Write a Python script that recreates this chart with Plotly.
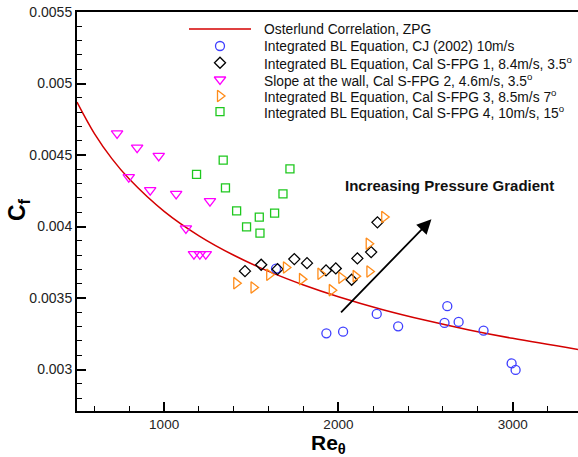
import plotly.graph_objects as go

# ---- data ----
curve_re = [500, 600, 700, 800, 1000, 1200, 1400, 1600, 1800, 2000, 2250, 2500, 2750, 3000, 3375]
curve_cf = [0.00487, 0.004650, 0.004475, 0.004332, 0.004106, 0.003935, 0.003799, 0.003686,
            0.003591, 0.003509, 0.003420, 0.003344, 0.003277, 0.003218, 0.003140]

cj_re = [1931, 2027, 2220, 2343, 2625, 2609, 2690, 2833, 2994, 3017, 1642]
cj_cf = [0.003253, 0.003265, 0.003389, 0.003302, 0.003443, 0.003326, 0.003333, 0.003272,
         0.003043, 0.002997, 0.003705]

fpg1_re = [1464, 1557, 1651, 1747, 1820, 1929, 1985, 2076, 2109, 2188, 2224]
fpg1_cf = [0.003688, 0.003733, 0.003702, 0.003772, 0.003744, 0.003693, 0.003707, 0.003628,
           0.003777, 0.003821, 0.004029]

fpg2_re = [730, 845, 969, 797, 920, 1069, 1263, 1125, 1171, 1205, 1239]
fpg2_cf = [0.004651, 0.004551, 0.004494, 0.004345, 0.004254, 0.004228, 0.004177, 0.003987,
           0.003807, 0.003807, 0.003807]

fpg3_re = [1414, 1513, 1603, 1699, 1791, 1897, 1962, 2017, 2099, 2178, 2174, 2263]
fpg3_cf = [0.003604, 0.003574, 0.003663, 0.003714, 0.003632, 0.003670, 0.003555, 0.003642,
           0.003653, 0.003686, 0.003880, 0.004067]

fpg4_re = [1339, 1186, 1722, 1352, 1682, 1416, 1634, 1546, 1473, 1550]
fpg4_cf = [0.004464, 0.004364, 0.004403, 0.004270, 0.004228, 0.004109, 0.004093, 0.004065,
           0.003997, 0.003954]

legend_labels = [
    "Osterlund Correlation, ZPG",
    "Integrated BL Equation, CJ (2002) 10m/s",
    "Integrated BL Equation, Cal S-FPG 1, 8.4m/s, 3.5<sup>o</sup>",
    "Slope at the wall, Cal S-FPG 2, 4.6m/s, 3.5<sup>o</sup>",
    "Integrated BL Equation, Cal S-FPG 3, 8.5m/s 7<sup>o</sup>",
    "Integrated BL Equation, Cal S-FPG 4, 10m/s, 15<sup>o</sup>",
]

x_ticks = [1000, 2000, 3000]
y_ticks = [0.003, 0.0035, 0.004, 0.0045, 0.005, 0.0055]

RED = "#d40000"
BLUE = "#3f3fff"
BLACK = "#000000"
MAGENTA = "#ff00ff"
ORANGE = "#ff8c1a"
GREEN = "#1ec81e"
FONT = "Liberation Sans, Arial"

series = [
    (cj_re, cj_cf, "circle-open", BLUE, 9),
    (fpg1_re, fpg1_cf, "diamond-open", BLACK, 8.5),
    (fpg2_re, fpg2_cf, "triangle-down-open", MAGENTA, 10),
    (fpg3_re, fpg3_cf, "triangle-right-open", ORANGE, 10),
    (fpg4_re, fpg4_cf, "square-open", GREEN, 8),
]

fig = go.Figure()
fig.add_trace(go.Scatter(x=curve_re, y=curve_cf, mode="lines", line=dict(color=RED, width=1.5, shape="spline"),
                         showlegend=False, hoverinfo="skip"))
for xs, ys, sym, col, sz in series:
    fig.add_trace(go.Scatter(x=xs, y=ys, mode="markers",
                             marker=dict(symbol=sym, size=sz, color=col, line=dict(color=col, width=1.3)),
                             showlegend=False))

# ---- custom legend drawn on an overlay axis measured in page pixels ----
L, R, T, B = 77, 578, 12, 411
W, H = 578, 457
leg_rows = [29, 46, 62.7, 79.5, 96, 111.7]
fig.add_trace(go.Scatter(x=[189, 251], y=[leg_rows[0]] * 2, mode="lines", line=dict(color=RED, width=1.5),
                         xaxis="x2", yaxis="y2", showlegend=False, hoverinfo="skip"))
for (xs, ys, sym, col, sz), ry in zip(series, leg_rows[1:]):
    fig.add_trace(go.Scatter(x=[220], y=[ry], mode="markers",
                             marker=dict(symbol=sym, size=sz, color=col, line=dict(color=col, width=1.3)),
                             xaxis="x2", yaxis="y2", showlegend=False, hoverinfo="skip"))
annotations = []
for lab, ry in zip(legend_labels, leg_rows):
    annotations.append(dict(x=262, y=ry, xref="x2", yref="y2", text=lab, showarrow=False,
                            xanchor="left", yanchor="middle",
                            font=dict(family=FONT, size=13.8, color="#111")))

# arrow and note
annotations.append(dict(x=2534, y=0.00405, ax=2007, ay=0.003389, xref="x", yref="y", axref="x", ayref="y",
                        showarrow=True, arrowhead=2, arrowsize=1.6, arrowwidth=1.8, arrowcolor="#000", text=""))
annotations.append(dict(x=343, y=185, xref="x2", yref="y2", text="<b>Increasing Pressure Gradient</b>",
                        showarrow=False, xanchor="left", yanchor="middle",
                        font=dict(family=FONT, size=15, color="#111")))


def px_to_paper(px, py):
    return (px - L) / (R - L), (B - py) / (B - T)


# axis titles (paper coords, outside the plot area)
cx, cy = px_to_paper(18, 210)
annotations.append(dict(x=cx, y=cy, xref="paper", yref="paper", text="<b>C<sub>f</sub></b>", textangle=-90,
                        showarrow=False, xanchor="center", yanchor="middle",
                        font=dict(family=FONT, size=23, color="#000")))
rx, ry_ = px_to_paper(328, 444.5)
annotations.append(dict(x=rx, y=ry_, xref="paper", yref="paper", text="<b>Re<sub>θ</sub></b>",
                        showarrow=False, xanchor="center", yanchor="middle",
                        font=dict(family=FONT, size=21, color="#000")))

fig.update_layout(
    width=W, height=H,
    margin=dict(l=L, r=W - R, t=T, b=H - B),
    paper_bgcolor="white", plot_bgcolor="white",
    showlegend=False,
    annotations=annotations,
    xaxis=dict(range=[500, 3375], tickvals=x_ticks, ticktext=[str(v) for v in x_ticks],
               ticks="inside", ticklen=9, tickwidth=1.5, tickcolor="#000",
               showline=True, linecolor="#000", linewidth=2, mirror=True,
               showgrid=False, zeroline=False,
               minor=dict(dtick=200, tick0=0, ticks="inside", ticklen=5, tickwidth=1, tickcolor="#000"),
               tickfont=dict(family=FONT, size=13.5, color="#222")),
    yaxis=dict(range=[0.00271, 0.0055], tickvals=y_ticks, ticktext=["0.003", "0.0035", "0.004", "0.0045", "0.005", "0.0055"],
               ticks="inside", ticklen=9, tickwidth=1.5, tickcolor="#000",
               showline=True, linecolor="#000", linewidth=2, mirror=False,
               showgrid=False, zeroline=False,
               minor=dict(dtick=0.0001, tick0=0, ticks="inside", ticklen=5, tickwidth=1, tickcolor="#000"),
               tickfont=dict(family=FONT, size=14, color="#222")),
    xaxis2=dict(range=[L, R], overlaying="x", visible=False, fixedrange=True),
    yaxis2=dict(range=[B, T], overlaying="y", visible=False, fixedrange=True),
)

fig.write_html("out.html")
